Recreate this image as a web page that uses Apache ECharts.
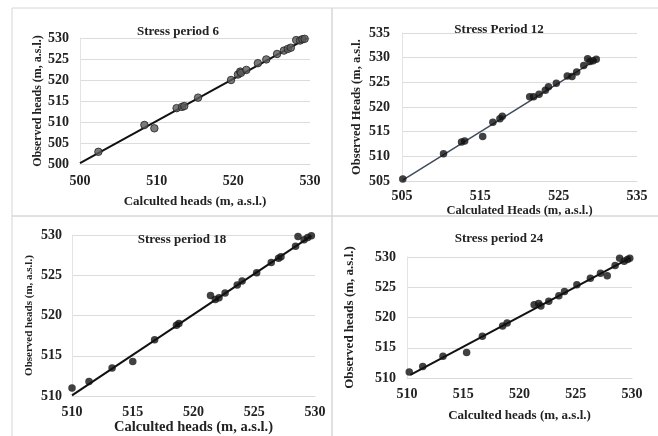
<!DOCTYPE html>
<html>
<head>
<meta charset="utf-8">
<script src="https://cdn.jsdelivr.net/npm/echarts@6/dist/echarts.min.js"></script>
<style>
  html, body { margin: 0; padding: 0; background: #fff; }
  #container { width: 658px; height: 436px; }
</style>
</head>
<body>
<div id="container"></div>
<script>
// stress period 6: [calculated, observed]
var sp6 = [
    [502.4, 502.9], [508.4, 509.3], [509.7, 508.5], [512.6, 513.3], [513.3, 513.6],
    [513.6, 513.8], [515.4, 515.8], [519.7, 520.0], [520.6, 521.3], [520.9, 522.0],
    [521.0, 521.7], [521.7, 522.4], [523.2, 524.0], [524.3, 524.9], [525.7, 526.2],
    [526.6, 527.0], [527.1, 527.4], [527.5, 527.7], [528.2, 529.5], [528.7, 529.4],
    [529.0, 529.7], [529.3, 529.8]
];
var sp6Trend = [[500, 500.2], [529.6, 529.9]];

// stress period 12
var sp12 = [
    [505.1, 505.4], [510.3, 510.5], [512.6, 512.9], [513.0, 513.1], [515.3, 514.0],
    [516.6, 516.9], [517.5, 517.6], [517.8, 518.1], [521.3, 522.1], [521.8, 522.1],
    [522.5, 522.6], [523.3, 523.4], [523.7, 524.1], [524.7, 524.8], [526.1, 526.3],
    [526.7, 526.2], [527.3, 527.1], [528.2, 528.4], [528.7, 529.8], [529.0, 529.2],
    [529.4, 529.4], [529.8, 529.7]
];
var sp12Trend = [[505.1, 505.2], [529.8, 529.6]];

// stress period 18
var sp18 = [
    [510.0, 511.0], [511.4, 511.8], [513.3, 513.5], [515.0, 514.3], [516.8, 517.0],
    [518.6, 518.8], [518.8, 519.0], [521.4, 522.5], [521.8, 522.0], [522.1, 522.2],
    [522.6, 522.8], [523.6, 523.8], [524.0, 524.3], [525.2, 525.3], [526.4, 526.6],
    [527.0, 527.1], [527.2, 527.3], [528.4, 528.6], [528.6, 529.8], [529.1, 529.4],
    [529.4, 529.7], [529.7, 529.9]
];
var sp18Trend = [[510.0, 510.1], [529.7, 529.9]];

// stress period 24
var sp24 = [
    [510.2, 511.0], [511.4, 511.9], [513.2, 513.6], [515.3, 514.2], [516.7, 516.9],
    [518.5, 518.6], [518.9, 519.1], [521.3, 522.1], [521.7, 522.3], [521.9, 521.9],
    [522.6, 522.7], [523.5, 523.6], [524.0, 524.3], [525.1, 525.4], [526.3, 526.5],
    [527.2, 527.3], [527.8, 526.9], [528.5, 528.6], [528.9, 529.8], [529.3, 529.3],
    [529.6, 529.6], [529.8, 529.8]
];
var sp24Trend = [[510.3, 510.5], [529.8, 529.8]];

var titles = ['Stress period 6', 'Stress Period 12', 'Stress period 18', 'Stress period 24'];
var xNames = ['Calculted heads (m, a.s.l.)', 'Calculated Heads (m, a.s.l.)', 'Calculted heads (m, a.s.l.)', 'Calculted heads (m, a.s.l.)'];
var yNames = ['Observed heads (m, a.s.l.)', 'Observed Heads (m, a.s.l.', 'Observed heads (m, a.s.l.)', 'Observed heads (m, a.s.l.)'];
var xRanges = [[500, 530, 10], [505, 535, 10], [510, 530, 5], [510, 530, 5]];
var yRanges = [[500, 530, 5], [505, 535, 5], [510, 530, 5], [510, 530, 5]];

(function() {
    var dom = document.getElementById("container");
    var myChart = echarts.init(dom);
    var font = 'Liberation Serif';

    var grids = [
        { left: 80, top: 38, width: 230, height: 126 },
        { left: 402, top: 33, width: 235, height: 148 },
        { left: 72, top: 235, width: 243, height: 162 },
        { left: 407, top: 257, width: 225, height: 121 }
    ];
    var titlePos = [[173, 20], [494, 18], [177, 228], [494, 227]];
    var xGap = [[10, 31, 13], [8, 20, 12.5], [9, 22, 14.5], [9, 31, 13]];
    var yGap = [[11, 34, 12], [12, 39, 12.5], [10, 37, 11], [11, 51, 13]];
    var lineColors = ['#111', '#3d4b5c', '#111', '#111'];
    var sets = [sp6, sp12, sp18, sp24];
    var trends = [sp6Trend, sp12Trend, sp18Trend, sp24Trend];

    var xAxis = [], yAxis = [], series = [], title = [];
    for (var i = 0; i < 4; i++) {
        title.push({
            text: titles[i],
            left: titlePos[i][0],
            top: titlePos[i][1],
            textAlign: 'center',
            textStyle: { fontFamily: font, fontSize: 13, fontWeight: 'bold', color: '#222' }
        });
        xAxis.push({
            type: 'value', gridIndex: i,
            min: xRanges[i][0], max: xRanges[i][1], interval: xRanges[i][2],
            name: xNames[i], nameLocation: 'middle', nameGap: xGap[i][1],
            nameTextStyle: { fontFamily: font, fontSize: xGap[i][2], fontWeight: 'bold', color: '#222' },
            axisLine: { show: true, lineStyle: { color: '#d9d9d9' } },
            axisTick: { show: false },
            axisLabel: { margin: xGap[i][0], fontFamily: font, fontSize: 14, fontWeight: 'bold', color: '#222' },
            splitLine: { show: false }
        });
        yAxis.push({
            type: 'value', gridIndex: i,
            min: yRanges[i][0], max: yRanges[i][1], interval: yRanges[i][2],
            name: yNames[i], nameLocation: 'middle', nameGap: yGap[i][1],
            nameTextStyle: { fontFamily: font, fontSize: yGap[i][2], fontWeight: 'bold', color: '#222' },
            axisLine: { show: true, lineStyle: { color: '#e3e3e3' } },
            axisTick: { show: false },
            axisLabel: { margin: yGap[i][0], fontFamily: font, fontSize: 14, fontWeight: 'bold', color: '#222' },
            splitLine: { show: true, lineStyle: { color: '#dcdcdc' } }
        });
        series.push({
            type: 'line', xAxisIndex: i, yAxisIndex: i,
            data: trends[i], showSymbol: false, silent: true,
            lineStyle: { color: lineColors[i], width: i === 1 ? 1.5 : 2 },
            z: 3
        });
        series.push({
            type: 'scatter', xAxisIndex: i, yAxisIndex: i,
            data: sets[i], symbolSize: 7.5, clip: false,
            itemStyle: i === 0
                ? { color: '#5a5a5a', borderColor: '#222', borderWidth: 1 }
                : { color: '#111' },
            z: 4
        });
    }

    var option = {
        backgroundColor: '#fff',
        animation: false,
        title: title,
        grid: grids,
        xAxis: xAxis,
        yAxis: yAxis,
        series: series,
        graphic: [
            { type: 'rect', shape: { x: 12, y: 8, width: 320, height: 208 }, style: { fill: null, stroke: '#d6d6d6', lineWidth: 1 } },
            { type: 'rect', shape: { x: 332, y: 8, width: 330, height: 208 }, style: { fill: null, stroke: '#d6d6d6', lineWidth: 1 } },
            { type: 'rect', shape: { x: 12, y: 216, width: 320, height: 230 }, style: { fill: null, stroke: '#d6d6d6', lineWidth: 1 } },
            { type: 'rect', shape: { x: 332, y: 216, width: 330, height: 230 }, style: { fill: null, stroke: '#d6d6d6', lineWidth: 1 } }
        ]
    };
    myChart.setOption(option);
}).call(this);
</script>
</body>
</html>
